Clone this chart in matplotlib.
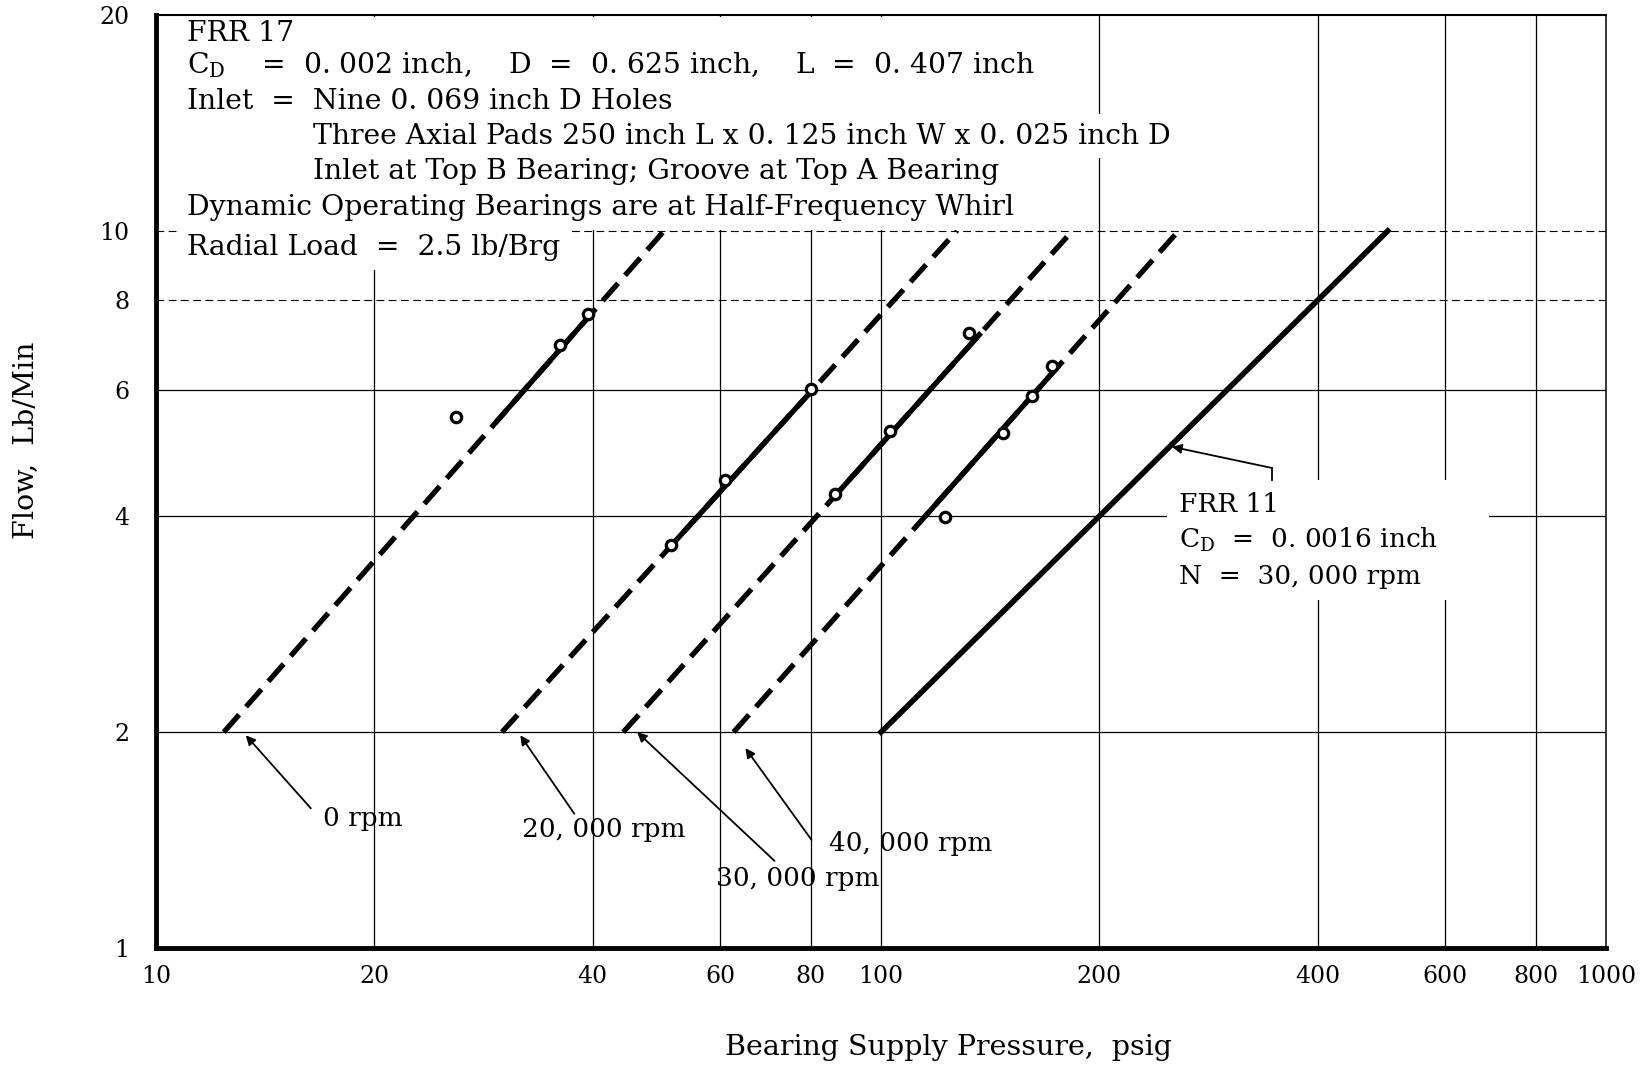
import matplotlib.pyplot as plt
from matplotlib.patches import Rectangle
from matplotlib.ticker import NullLocator

plt.rcParams['font.family'] = ['DejaVu Serif']
plt.rcParams['mathtext.fontset'] = 'dejavuserif'

# FRR 17 curves: pressure where each line meets flow = 2 and flow = 10
speeds = ['0 rpm', '20, 000 rpm', '30, 000 rpm', '40, 000 rpm']
p_at_2 = [12.4, 30.0, 44.1, 62.6]
p_at_10 = [50.2, 127.2, 183.6, 257.2]
flow_ends = [2, 10]
# flow range where the line is drawn solid (through test points)
solid_from = [5.4, 3.66, 4.30, 4.0]
solid_to = [7.66, 6.03, 7.21, 6.49]

# FRR 11 line
frr11_p = [100, 500]
frr11_flow = [2, 10]

# test points
pts_p = [[25.9, 36.1, 39.4], [51.3, 60.9, 80.0], [86.4, 102.9, 132.3],
         [122.5, 147.2, 161.3, 172.0]]
pts_flow = [[5.51, 6.94, 7.66], [3.65, 4.50, 6.01], [4.30, 5.26, 7.21],
            [3.99, 5.22, 5.89, 6.49]]

# speed labels and their arrows
lab_xy = [(19.3, 1.514), (41.4, 1.463), (76.8, 1.249), (110.0, 1.401)]
arr_head = [(13.3, 1.98), (31.8, 1.98), (46.1, 2.0), (65.0, 1.90)]
arr_tail = [(16.35, 1.566), (37.75, 1.539), (71.3, 1.323), (80.2, 1.415)]

xticks = [10, 20, 40, 60, 80, 100, 200, 400, 600, 800, 1000]
yticks = [1, 2, 4, 6, 8, 10, 20]


def p_on_line(p2, p10, f):
    # log-log straight line between the two end points
    import math
    t = math.log10(f / 2) / math.log10(10 / 2)
    return 10 ** (math.log10(p2) + t * (math.log10(p10) - math.log10(p2)))


fig = plt.figure(figsize=(16.46, 10.67), dpi=100)
ax = fig.add_axes([0.0948, 0.1115, 0.8809, 0.8744])
ax.set_xscale('log')
ax.set_yscale('log')
ax.set_xlim(10, 1000)
ax.set_ylim(1, 20)

for x in xticks[1:-1]:
    ax.axvline(x, color='black', lw=0.9, zorder=1)
for y in [2, 4, 6]:
    ax.axhline(y, color='black', lw=0.9, zorder=1)
for y in [8, 10]:
    ax.axhline(y, color='black', lw=0.8, ls=(0, (7, 4)), zorder=1)

# white areas behind the notes
ax.add_patch(Rectangle((10.05, 10.24), 157 - 10.05, 19.9 - 10.24,
                       facecolor='white', edgecolor='none', zorder=1.5))
ax.add_patch(Rectangle((248, 3.06), 690 - 248, 4.5 - 3.06,
                       facecolor='white', edgecolor='none', zorder=1.5))

for i in range(4):
    ax.plot([p_at_2[i], p_at_10[i]], flow_ends, color='black', lw=3.8,
            ls=(0, (4.4, 2.0)), dash_capstyle='butt', zorder=2)
    a = p_on_line(p_at_2[i], p_at_10[i], solid_from[i])
    b = p_on_line(p_at_2[i], p_at_10[i], solid_to[i])
    ax.plot([a, b], [solid_from[i], solid_to[i]], color='black', lw=3.8,
            solid_capstyle='butt', zorder=2)
    ax.plot(pts_p[i], pts_flow[i], 'o', ms=7.5, mfc='white', mec='black',
            mew=2.3, zorder=3)
    ax.annotate('', xy=arr_head[i], xytext=arr_tail[i],
                arrowprops=dict(arrowstyle='-|>', color='black', lw=1.3,
                                mutation_scale=14, shrinkA=0, shrinkB=0))
    ax.text(lab_xy[i][0], lab_xy[i][1], speeds[i], fontsize=19,
            ha='center', va='center')

ax.plot(frr11_p, frr11_flow, color='black', lw=4.0, zorder=2)

# FRR 11 note
ax.plot([346.5, 346.5], [4.67, 4.50], color='black', lw=1.3)
ax.annotate('', xy=(252, 5.0), xytext=(346.5, 4.67),
            arrowprops=dict(arrowstyle='-|>', color='black', lw=1.3,
                            mutation_scale=14, shrinkA=0, shrinkB=0))
ax.text(257.4, 4.16, 'FRR 11', fontsize=19, va='center', zorder=4)
ax.text(257.4, 3.71, r'C$_\mathrm{D}$  =  0. 0016 inch', fontsize=19,
        va='center', zorder=4)
ax.text(257.4, 3.30, 'N  =  30, 000 rpm', fontsize=19, va='center', zorder=4)

# FRR 17 note
box = dict(facecolor='white', edgecolor='none', pad=6)
notes = [
    (11.03, 18.85, 'FRR 17'),
    (11.03, 17.03, r'C$_\mathrm{D}$    =  0. 002 inch,    D  =  0. 625 inch,    L  =  0. 407 inch'),
    (11.03, 15.14, 'Inlet  =  Nine 0. 069 inch D Holes'),
    (16.47, 13.55, 'Three Axial Pads 250 inch L x 0. 125 inch W x 0. 025 inch D'),
    (16.47, 12.12, 'Inlet at Top B Bearing; Groove at Top A Bearing'),
    (11.03, 10.77, 'Dynamic Operating Bearings are at Half-Frequency Whirl'),
    (11.03, 9.48, 'Radial Load  =  2.5 lb/Brg'),
]
for x, y, s in notes:
    ax.text(x, y, s, fontsize=20.3, va='center', bbox=box, zorder=4)

ax.set_xticks(xticks)
ax.set_xticklabels([str(v) for v in xticks])
ax.set_yticks(yticks)
ax.set_yticklabels([str(v) for v in yticks])
ax.xaxis.set_minor_locator(NullLocator())
ax.yaxis.set_minor_locator(NullLocator())
ax.tick_params(axis='x', length=0, pad=12, labelsize=17)
ax.tick_params(axis='y', length=0, pad=19, labelsize=17)

ax.spines['left'].set_linewidth(3.5)
ax.spines['bottom'].set_linewidth(3.5)
ax.spines['top'].set_linewidth(1.5)
ax.spines['right'].set_linewidth(1.1)
for sp in ax.spines.values():
    sp.set_zorder(6)

fig.text(0.0158, 0.587, 'Flow,  Lb/Min', rotation=90, fontsize=20.5,
         ha='center', va='center')
fig.text(0.576, 0.018, 'Bearing Supply Pressure,  psig', fontsize=20.5,
         ha='center', va='center')

fig.savefig('out.png', dpi=100)
